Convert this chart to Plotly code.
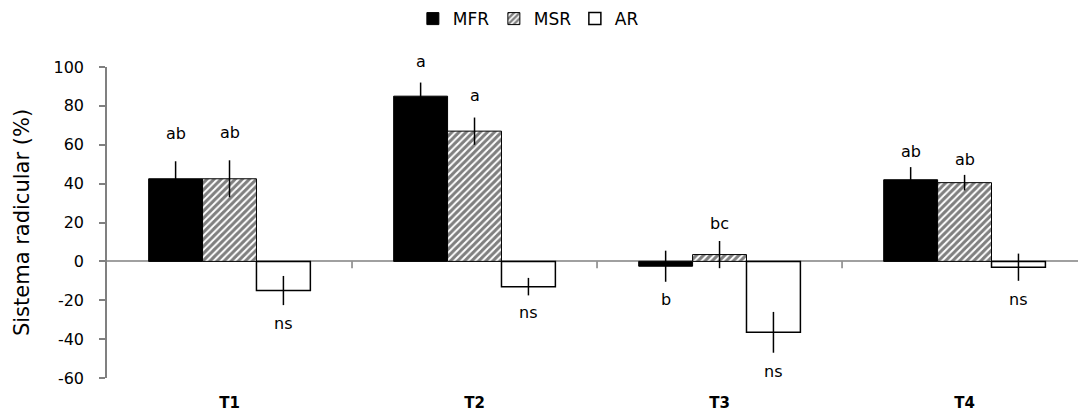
import plotly.graph_objects as go

# Treatments and series
categories = ["T1", "T2", "T3", "T4"]
series_names = ["MFR", "MSR", "AR"]

mfr_values = [42.5, 85, -2.5, 42]
msr_values = [42.5, 67, 3.5, 40.5]
ar_values = [-15, -13, -36.5, -3]

mfr_errors = [9, 7, 8, 6.5]
msr_errors = [9.5, 7, 7, 4]
ar_errors = [7.5, 4.5, 10.5, 7]

mfr_letters = ["ab", "a", "b", "ab"]
msr_letters = ["ab", "a", "bc", "ab"]
ar_letters = ["ns", "ns", "ns", "ns"]

y_ticks = [-60, -40, -20, 0, 20, 40, 60, 80, 100]
y_tick_text = [str(v) for v in y_ticks]

# Styling
FONT = "DejaVu Sans"
BAR_GAP = 0.34
# pixel gap between each letter and the end of its error bar
letter_gap = [
    [28, 21, -18, 16],   # MFR
    [28, 22, 17, 15],    # MSR
    [-18, -17, -19, -19],  # AR
]

fig = go.Figure()

fig.add_trace(go.Bar(
    name="MFR", x=categories, y=mfr_values,
    marker=dict(color="black", line=dict(color="black", width=1)),
    error_y=dict(type="data", array=mfr_errors, color="black",
                 thickness=1.5, width=0),
))
fig.add_trace(go.Bar(
    name="MSR", x=categories, y=msr_values,
    marker=dict(color="white", line=dict(color="black", width=1),
                pattern=dict(shape="/", fgcolor="black", bgcolor="white",
                             size=5, solidity=0.6)),
    error_y=dict(type="data", array=msr_errors, color="black",
                 thickness=1.5, width=0),
))
fig.add_trace(go.Bar(
    name="AR", x=categories, y=ar_values,
    marker=dict(color="white", line=dict(color="black", width=1.5)),
    error_y=dict(type="data", array=ar_errors, color="black",
                 thickness=1.5, width=0),
))

# Significance letters above/below the error bars
bar_w = (1 - BAR_GAP) / 3
groups = [
    (mfr_values, mfr_errors, mfr_letters),
    (msr_values, msr_errors, msr_letters),
    (ar_values, ar_errors, ar_letters),
]
for k, (vals, errs, letters) in enumerate(groups):
    offset = (k - 1) * bar_w
    for i, (v, e, t) in enumerate(zip(vals, errs, letters)):
        y = v + e if v >= 0 else v - e
        fig.add_annotation(
            x=i + offset, y=y, xref="x", yref="y", text=t,
            showarrow=False, yshift=letter_gap[k][i],
            font=dict(family=FONT, size=16, color="black"),
        )

# Small tick marks on the zero line between treatments
for i in range(len(categories) - 1):
    fig.add_shape(type="line", xref="x", yref="y",
                  x0=i + 0.5, x1=i + 0.5, y0=0, y1=-3.5,
                  line=dict(color="#808080", width=1.5))

fig.update_layout(
    width=1078, height=414,
    margin=dict(l=107, r=0, t=67, b=36, autoexpand=False),
    paper_bgcolor="white", plot_bgcolor="white",
    barmode="group", bargap=BAR_GAP, bargroupgap=0,
    font=dict(family=FONT, size=16, color="black"),
    showlegend=True,
    legend=dict(orientation="h", x=0.383, xanchor="left", xref="container",
                y=0.954, yanchor="middle", yref="container",
                font=dict(family=FONT, size=17, color="black"),
                itemwidth=30, tracegroupgap=0,
                entrywidth=36, entrywidthmode="pixels"),
    xaxis=dict(
        range=[-0.5, 3.463], showline=False, ticks="",
        showgrid=False, zeroline=False,
        tickfont=dict(family=FONT, size=15, color="black", weight="bold"),
        ticklabelstandoff=14,
    ),
    yaxis=dict(
        range=[-60, 100], tickvals=y_ticks, ticktext=y_tick_text,
        showline=True, linecolor="#808080", linewidth=1.5,
        ticks="outside", ticklen=6, tickcolor="#808080", tickwidth=1.5,
        showgrid=False, zeroline=True, zerolinecolor="#a0a0a0",
        zerolinewidth=1.5,
        tickfont=dict(family=FONT, size=16, color="black"),
        ticklabelstandoff=12,
        title=dict(text="Sistema radicular (%)",
                   font=dict(family=FONT, size=21, color="black"),
                   standoff=18),
    ),
)

fig.write_html("out.html")
